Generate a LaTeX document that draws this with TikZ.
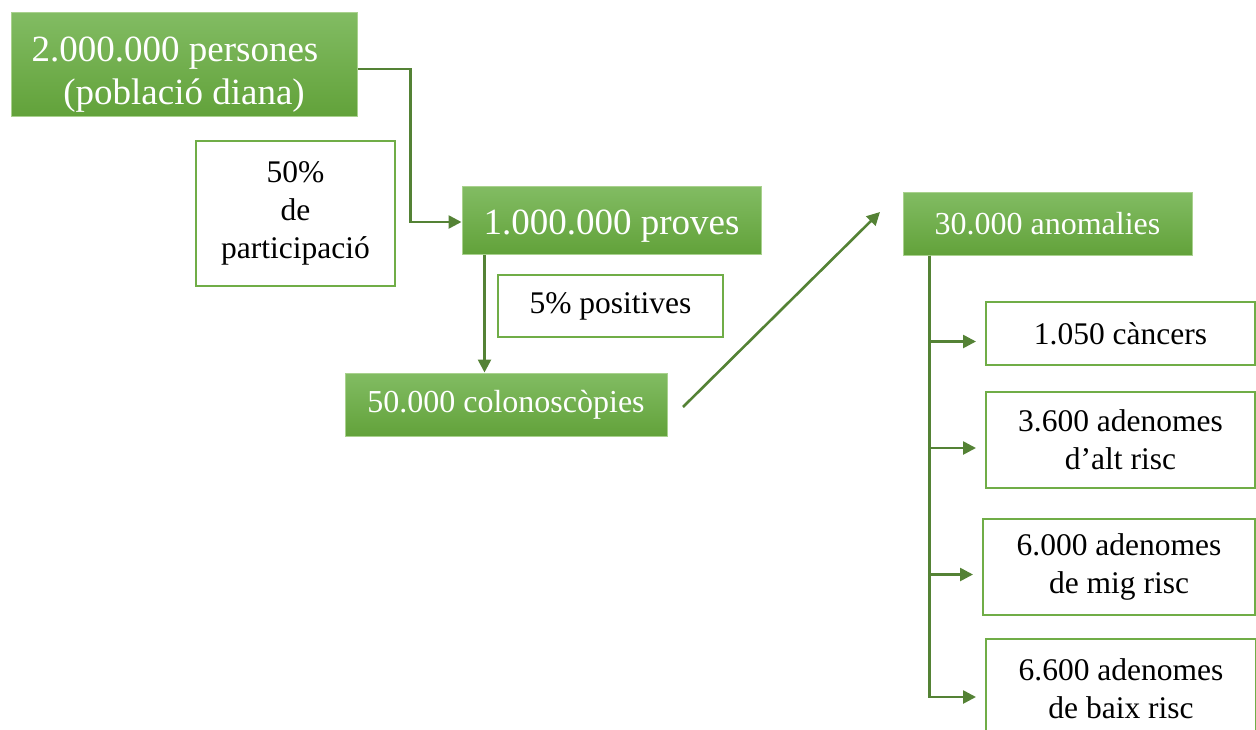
\documentclass[tikz,border=0pt]{standalone}
\usepackage{fontspec}
\setmainfont{Liberation Serif}
\usetikzlibrary{arrows.meta}

\definecolor{boxgreen}{HTML}{70AD47}
\definecolor{linegreen}{HTML}{548235}
\definecolor{topgreen}{HTML}{82BC63}
\definecolor{botgreen}{HTML}{62A23A}
\definecolor{edgegreen}{HTML}{A9D18E}

\begin{document}
\begin{tikzpicture}[
    x = 1pt, y = -1pt, % pixel units, y going down
    >= {Triangle[length=13pt,width=13pt]}, % arrow head style
    shorten >= 9pt % arrows stop short of the boxes
  ]

  \tikzstyle{greenbox}=[
      draw = edgegreen,
      line width = 1pt,
      top color = topgreen,
      bottom color = botgreen,
      text = white,
      align = center,
      inner sep = 0pt
  ]
  \tikzstyle{whitebox}=[
      draw = boxgreen,
      line width = 2pt,
      fill = white,
      align = center,
      inner sep = 0pt,
      font = \fontsize{31.5}{38}\selectfont
  ]
  \tikzstyle{link}=[draw = linegreen, line width = 2.6pt]

\useasboundingbox (0,0) rectangle (1256,729);

\node[greenbox, minimum width=346pt, minimum height=104pt, font=\fontsize{37}{43}\selectfont] (pobl) at (184,64) {\rule{0pt}{46pt}2.000.000 persones\hspace*{18pt}\\(població diana)};
\node[whitebox, minimum width=199pt, minimum height=145pt] (part) at (295.5,213.5) {50\%\\de\\participació};
\node[greenbox, minimum width=299pt, minimum height=68pt, font=\fontsize{37}{43}\selectfont] (proves) at (611.5,220) {\rule{0pt}{36pt}1.000.000 proves};
\node[whitebox, minimum width=225pt, minimum height=62pt] (posit) at (610.5,306) {5\% positives};
\node[greenbox, minimum width=322pt, minimum height=63pt, font=\fontsize{32}{38}\selectfont] (colon) at (506,404.5) {50.000 colonoscòpies};
\node[greenbox, minimum width=289pt, minimum height=63pt, font=\fontsize{32}{38}\selectfont] (anom) at (1047.5,223.5) {30.000 anomalies};
\node[whitebox, minimum width=269pt, minimum height=63pt] (canc) at (1120.5,333.5) {1.050 càncers};
\node[whitebox, minimum width=269pt, minimum height=96pt] (alt) at (1120.5,440) {3.600 adenomes\\d’alt risc};
\node[whitebox, minimum width=272pt, minimum height=96pt] (mig) at (1119,566.5) {6.000 adenomes\\de mig risc};
\node[whitebox, minimum width=270pt, minimum height=100pt] (baix) at (1121,689) {6.600 adenomes\\de baix risc};

\coordinate (from) at (683,407);
\coordinate (to) at (880,212);
\coordinate (trunk) at ([xshift=27pt]anom.south west);

 \draw[link, ->, shorten >=0pt] ([yshift=-5pt]pobl.east) -- ++(53,0) |- ([yshift=-2pt]proves.west);
 \draw[link, ->, shorten >=0pt] ([xshift=23pt]proves.south west) -- ([xshift=23pt]proves.south west |- colon.north);
 \draw[link, ->, shorten >=0pt] (from) -- (to);
 \foreach \b in {canc,alt,mig,baix}
   \draw[link, ->] (trunk) |- ([yshift=-8pt]\b.west);
\end{tikzpicture}
\end{document}
